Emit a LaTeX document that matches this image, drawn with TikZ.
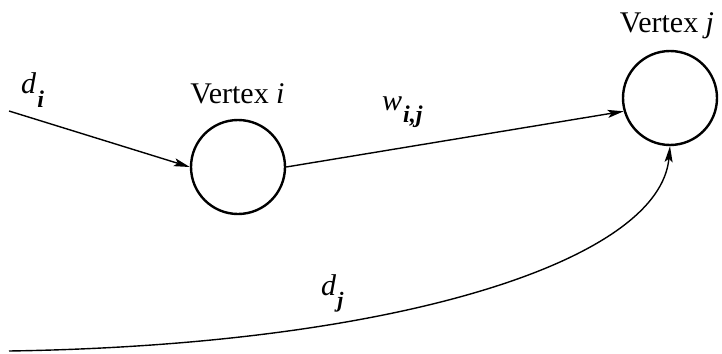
\documentclass[tikz,border=0pt]{standalone}
\usepackage{fontspec}
\setmainfont{Liberation Serif}
\usetikzlibrary{arrows.meta}
\begin{document}
\begin{tikzpicture}[x=1pt,y=-1pt,
  vertex/.style={circle,draw,line width=2.4pt,minimum size=94pt,inner sep=0pt},
  conn/.style={line width=1.4pt,-{Stealth[length=16pt,width=8pt,inset=3.5pt]}},
  lbl/.style={inner sep=0pt,font=\fontsize{30}{30}\selectfont},
  mlbl/.style={inner sep=0pt,anchor=base west,font=\fontsize{30}{30}\selectfont}]
\useasboundingbox (0,0) rectangle (722,353);
\node[vertex] (ci) at (238,167) {};
\node[vertex] (cj) at (670,98) {};
\node[lbl,anchor=base] (li) at (237.5,103) {Vertex \textit{i}};
\node[lbl,anchor=base] (lj) at (667,33) {Vertex \textit{j}};
\node[mlbl] (ldi) at (21,93) {\textit{d}\kern1pt\raisebox{-14pt}{\fontsize{24}{24}\selectfont\textbf{\textit{i}}}};
\node[mlbl] (lw) at (382,110) {\textit{w}\kern1pt\raisebox{-12pt}{\fontsize{24}{24}\selectfont\textbf{\textit{i,j}}}};
\node[mlbl] (ldj) at (321,295) {\textit{d}\kern1pt\raisebox{-12pt}{\fontsize{22}{22}\selectfont\textbf{\textit{j}}}};
\coordinate (si) at (9,111);
\coordinate (sj) at (9,351);
\draw[conn] (si) -- (ci.west);
\draw[conn] (ci.east) -- (cj.196);
\draw[conn] (sj) .. controls (400,345) and (660,260) .. (cj.south);
\end{tikzpicture}
\end{document}
